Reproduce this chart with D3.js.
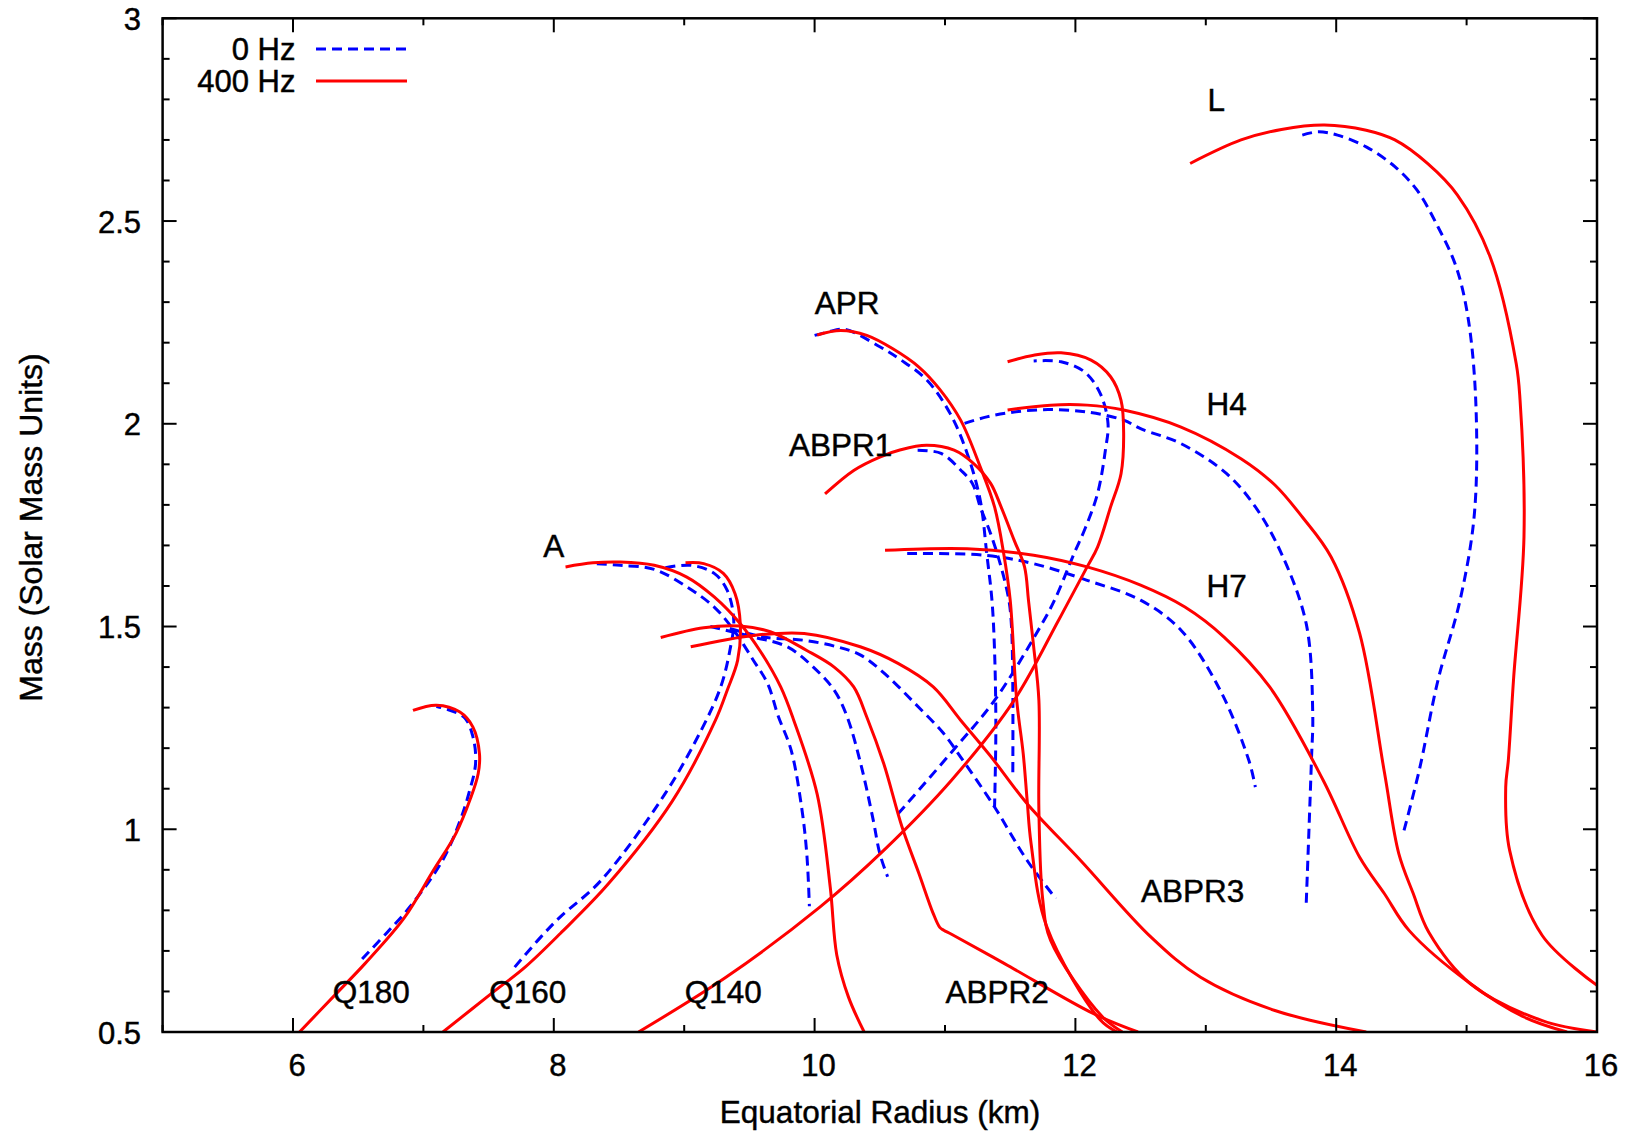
<!DOCTYPE html>
<html>
<head>
<meta charset="utf-8">
<title>Mass-Radius curves</title>
<script src="https://cdn.jsdelivr.net/npm/d3@7"></script>
<style>
  body { margin: 0; background: #fff; }
  svg { display: block; }
  text { font-family: "Liberation Sans", Arial, Helvetica, sans-serif; fill: #000; stroke: #000; stroke-width: 0.45px; }
</style>
</head>
<body>
<svg id="chart" width="1641" height="1132"></svg>
<script>
// Mass–radius relations: [equatorial radius (km), mass (solar masses)]
// Non-rotating (0 Hz) and spinning at 400 Hz, for each equation of state.
const Q180_0Hz   = [[6.53,0.68],[6.72,0.745],[6.90,0.81],[7.15,0.925],[7.28,1.02],[7.35,1.09],[7.40,1.162],[7.38,1.228],[7.31,1.277],[7.10,1.303]];
const Q180_400Hz = [[6.05,0.5],[6.33,0.594],[6.55,0.668],[6.85,0.78],[7.07,0.895],[7.25,0.99],[7.36,1.075],[7.42,1.137],[7.43,1.186],[7.38,1.252],[7.28,1.289],[7.10,1.306],[6.92,1.293]];

const Q160_0Hz   = [[7.70,0.66],[7.90,0.734],[8.05,0.784],[8.36,0.873],[8.85,1.086],[9.13,1.244],[9.28,1.351],[9.35,1.441],[9.38,1.515],[9.33,1.589],[9.23,1.631],[9.05,1.651],[8.82,1.643]];
const Q160_400Hz = [[7.15,0.5],[7.53,0.597],[7.78,0.66],[8.05,0.743],[8.42,0.866],[8.91,1.07],[9.24,1.269],[9.33,1.343],[9.41,1.417],[9.43,1.507],[9.39,1.581],[9.30,1.631],[9.15,1.655],[9.01,1.657]];

const A_0Hz   = [[8.33,1.655],[8.51,1.651],[8.77,1.641],[9.02,1.598],[9.23,1.548],[9.38,1.491],[9.53,1.417],[9.64,1.359],[9.72,1.28],[9.82,1.195],[9.90,1.055],[9.94,0.94],[9.96,0.81]];
const A_400Hz = [[8.09,1.647],[8.30,1.657],[8.51,1.659],[8.77,1.651],[9.02,1.622],[9.23,1.573],[9.43,1.507],[9.58,1.441],[9.74,1.351],[9.84,1.269],[10.02,1.086],[10.12,0.857],[10.17,0.69],[10.26,0.586],[10.38,0.5]];

const Q140_0Hz   = [[10.64,1.038],[11.05,1.19],[11.38,1.318],[11.73,1.499],[11.84,1.565],[11.99,1.68],[12.08,1.746],[12.17,1.828],[12.23,1.935],[12.25,2.001],[12.19,2.075],[12.07,2.128],[11.89,2.153],[11.68,2.155]];
const Q140_400Hz = [[8.65,0.5],[9.32,0.635],[10.04,0.808],[10.53,0.948],[11.05,1.121],[11.53,1.318],[11.87,1.515],[12.09,1.647],[12.17,1.696],[12.27,1.795],[12.35,1.877],[12.37,1.976],[12.35,2.058],[12.27,2.116],[12.12,2.157],[11.89,2.175],[11.68,2.169],[11.48,2.153]];

const APR_0Hz   = [[10.00,2.218],[10.10,2.226],[10.23,2.233],[10.50,2.19],[10.66,2.158],[10.86,2.108],[11.04,2.025],[11.17,1.927],[11.27,1.812],[11.32,1.68],[11.36,1.565],[11.38,1.44],[11.39,1.25],[11.38,1.055]];
const APR_400Hz = [[10.02,2.219],[10.20,2.23],[10.40,2.218],[10.60,2.185],[10.80,2.14],[10.96,2.085],[11.12,2.009],[11.27,1.894],[11.38,1.795],[11.45,1.68],[11.50,1.565],[11.55,1.318],[11.60,1.186],[11.63,1.071],[11.66,0.965],[11.78,0.76],[12.19,0.53],[12.32,0.5]];

const ABPR1_0Hz   = [[10.79,1.935],[10.97,1.927],[11.12,1.886],[11.21,1.853],[11.27,1.795],[11.35,1.729],[11.43,1.647],[11.49,1.565],[11.51,1.5],[11.52,1.35],[11.52,1.137]];
const ABPR1_400Hz = [[10.08,1.827],[10.30,1.885],[10.50,1.918],[10.66,1.936],[10.86,1.947],[11.07,1.935],[11.22,1.902],[11.35,1.853],[11.43,1.795],[11.53,1.713],[11.61,1.647],[11.64,1.565],[11.68,1.45],[11.72,1.318],[11.72,1.047],[11.75,0.825],[11.81,0.726],[12.20,0.54],[12.36,0.5]];

const ABPR2_0Hz   = [[9.20,1.50],[9.53,1.474],[9.79,1.45],[9.99,1.40],[10.15,1.343],[10.25,1.277],[10.36,1.153],[10.45,1.022],[10.50,0.94],[10.56,0.883]];
const ABPR2_400Hz = [[8.82,1.473],[9.15,1.497],[9.43,1.501],[9.66,1.487],[9.94,1.441],[10.15,1.40],[10.30,1.351],[10.40,1.277],[10.53,1.162],[10.67,1.006],[10.80,0.891],[10.91,0.792],[10.96,0.758],[10.99,0.751],[11.05,0.741],[11.46,0.668],[12.14,0.545],[12.48,0.5]];

const ABPR3_0Hz   = [[9.35,1.495],[9.61,1.474],[9.92,1.466],[10.17,1.45],[10.35,1.43],[10.55,1.38],[10.77,1.31],[10.99,1.236],[11.12,1.178],[11.38,1.055],[11.63,0.923],[11.85,0.829]];
const ABPR3_400Hz = [[9.05,1.45],[9.53,1.478],[9.92,1.483],[10.35,1.45],[10.64,1.409],[10.91,1.351],[11.12,1.269],[11.35,1.18],[11.63,1.063],[12.04,0.923],[12.58,0.734],[12.96,0.635],[13.53,0.553],[14.23,0.5]];

const H4_0Hz   = [[11.15,2.001],[11.32,2.017],[11.53,2.029],[11.79,2.035],[12.09,2.029],[12.37,2.009],[12.50,1.988],[12.81,1.951],[13.16,1.877],[13.38,1.795],[13.58,1.68],[13.77,1.507],[13.82,1.285],[13.81,1.17],[13.77,0.816]];
const H4_400Hz = [[11.48,2.034],[11.81,2.046],[12.09,2.046],[12.37,2.034],[12.81,1.992],[13.27,1.914],[13.53,1.849],[13.74,1.77],[13.96,1.672],[14.18,1.483],[14.37,1.14],[14.48,0.94],[14.59,0.842],[14.71,0.746],[15.03,0.619],[15.58,0.528],[16.0,0.5]];

const H7_0Hz   = [[10.71,1.68],[11.30,1.676],[11.68,1.655],[12.09,1.614],[12.50,1.565],[12.81,1.491],[13.11,1.343],[13.33,1.17],[13.38,1.104]];
const H7_400Hz = [[10.54,1.688],[11.17,1.692],[11.68,1.676],[12.09,1.647],[12.50,1.602],[12.84,1.548],[13.14,1.474],[13.49,1.351],[13.90,1.121],[14.18,0.931],[14.37,0.841],[14.56,0.75],[15.03,0.619],[15.44,0.537],[15.77,0.5]];

const L_0Hz   = [[13.74,2.712],[13.86,2.72],[14.01,2.712],[14.23,2.683],[14.45,2.634],[14.62,2.576],[14.78,2.486],[14.92,2.387],[15.01,2.264],[15.07,2.058],[15.06,1.779],[14.95,1.565],[14.78,1.367],[14.64,1.15],[14.52,0.997]];
const L_400Hz = [[12.88,2.642],[13.27,2.70],[13.58,2.726],[13.91,2.737],[14.23,2.724],[14.45,2.70],[14.70,2.642],[14.93,2.564],[15.18,2.412],[15.38,2.149],[15.41,2.058],[15.44,1.721],[15.36,1.37],[15.32,1.17],[15.30,1.104],[15.33,0.948],[15.58,0.738],[16.0,0.615]];

// Equation-of-state names and where their labels sit (radius km, mass)
const eosNames  = ["Q180","Q160","Q140","A","APR","ABPR1","ABPR2","ABPR3","H4","H7","L"];
const labelR    = [6.6, 7.8, 9.3, 8.0, 10.25, 10.2, 11.4, 12.9, 13.16, 13.16, 13.08];
const labelM    = [0.6, 0.6, 0.6, 1.7, 2.3, 1.95, 0.6, 0.85, 2.05, 1.6, 2.8];

// Axis ticks
const xMajorTicks = [6, 8, 10, 12, 14, 16];
const xMinorTicks = [5, 7, 9, 11, 13, 15];
const yMajorTicks = [0.5, 1, 1.5, 2, 2.5, 3];
const yMinorTicks = d3.range(6, 30).map(v => v / 10).filter(v => Math.abs(v * 2 - Math.round(v * 2)) > 1e-6);

const legendLabels = ["0 Hz", "400 Hz"];

// ---- layout ----
const svg = d3.select("#chart");
const plot = { left: 162.6, right: 1597, top: 18.3, bottom: 1032 };

const x = d3.scaleLinear().domain([5, 16]).range([plot.left, plot.right]);
const y = d3.scaleLinear().domain([0.5, 3]).range([plot.bottom, plot.top]);

const RED = "#ff0000", BLUE = "#0000ff";
const DASH = "10,6";

svg.append("rect").attr("width", 1641).attr("height", 1132).attr("fill", "#fff");

svg.append("defs").append("clipPath").attr("id", "plotClip")
  .append("rect")
  .attr("x", plot.left).attr("y", plot.top)
  .attr("width", plot.right - plot.left).attr("height", plot.bottom - plot.top);

const line = d3.line()
  .x(d => x(d[0]))
  .y(d => y(d[1]))
  .curve(d3.curveCatmullRom.alpha(0.5));

const slowCurves = [Q180_0Hz, Q160_0Hz, A_0Hz, Q140_0Hz, APR_0Hz, ABPR1_0Hz, ABPR2_0Hz, ABPR3_0Hz, H4_0Hz, H7_0Hz, L_0Hz];
const fastCurves = [Q180_400Hz, Q160_400Hz, A_400Hz, Q140_400Hz, APR_400Hz, ABPR1_400Hz, ABPR2_400Hz, ABPR3_400Hz, H4_400Hz, H7_400Hz, L_400Hz];

const curveLayer = svg.append("g").attr("clip-path", "url(#plotClip)");

curveLayer.selectAll("path.slow")
  .data(slowCurves).enter().append("path")
  .attr("class", "slow")
  .attr("d", line)
  .attr("fill", "none")
  .attr("stroke", BLUE)
  .attr("stroke-width", 3)
  .attr("stroke-dasharray", DASH);

curveLayer.selectAll("path.fast")
  .data(fastCurves).enter().append("path")
  .attr("class", "fast")
  .attr("d", line)
  .attr("fill", "none")
  .attr("stroke", RED)
  .attr("stroke-width", 3);

// ---- frame and mirrored inward ticks ----
const axisG = svg.append("g").attr("stroke", "#000").attr("stroke-width", 2);
const MAJOR = 14, MINOR = 7;

function xTick(v, len) {
  axisG.append("line").attr("x1", x(v)).attr("x2", x(v)).attr("y1", plot.bottom).attr("y2", plot.bottom - len);
  axisG.append("line").attr("x1", x(v)).attr("x2", x(v)).attr("y1", plot.top).attr("y2", plot.top + len);
}
function yTick(v, len) {
  axisG.append("line").attr("y1", y(v)).attr("y2", y(v)).attr("x1", plot.left).attr("x2", plot.left + len);
  axisG.append("line").attr("y1", y(v)).attr("y2", y(v)).attr("x1", plot.right).attr("x2", plot.right - len);
}
xMajorTicks.forEach(v => xTick(v, MAJOR));
xMinorTicks.forEach(v => xTick(v, MINOR));
yMajorTicks.forEach(v => yTick(v, MAJOR));
yMinorTicks.forEach(v => yTick(v, MINOR));

svg.append("rect")
  .attr("x", plot.left).attr("y", plot.top)
  .attr("width", plot.right - plot.left).attr("height", plot.bottom - plot.top)
  .attr("fill", "none").attr("stroke", "#000").attr("stroke-width", 2.5);

// ---- tick labels ----
const FS = 31;
svg.append("g").selectAll("text")
  .data(xMajorTicks).enter().append("text")
  .attr("x", d => x(d) + 4)
  .attr("y", 1076)
  .attr("text-anchor", "middle")
  .attr("font-size", FS)
  .text(d => d3.format("~g")(d));

svg.append("g").selectAll("text")
  .data(yMajorTicks).enter().append("text")
  .attr("x", 141)
  .attr("y", d => y(d) + 11.5)
  .attr("text-anchor", "end")
  .attr("font-size", FS)
  .text(d => d3.format("~g")(d));

// ---- axis titles ----
svg.append("text")
  .attr("x", 880).attr("y", 1123)
  .attr("text-anchor", "middle")
  .attr("font-size", 31.5)
  .text("Equatorial Radius (km)");

svg.append("text")
  .attr("transform", "translate(42,527.5) rotate(-90)")
  .attr("text-anchor", "middle")
  .attr("font-size", 32)
  .text("Mass (Solar Mass Units)");

// ---- curve labels ----
svg.append("g").selectAll("text")
  .data(eosNames).enter().append("text")
  .attr("x", (d, i) => x(labelR[i]))
  .attr("y", (d, i) => y(labelM[i]) + 11.5)
  .attr("text-anchor", "middle")
  .attr("font-size", 31.5)
  .text(d => d);

// ---- legend ----
const legend = svg.append("g");
const legendY = [49, 81];
legendLabels.forEach((lab, i) => {
  legend.append("text")
    .attr("x", 295.5).attr("y", legendY[i] + 10.5)
    .attr("text-anchor", "end")
    .attr("font-size", FS)
    .text(lab);
  legend.append("line")
    .attr("x1", 316).attr("x2", 407)
    .attr("y1", legendY[i]).attr("y2", legendY[i])
    .attr("stroke", i === 0 ? BLUE : RED)
    .attr("stroke-width", 3)
    .attr("stroke-dasharray", i === 0 ? DASH : null);
});
</script>
</body>
</html>
